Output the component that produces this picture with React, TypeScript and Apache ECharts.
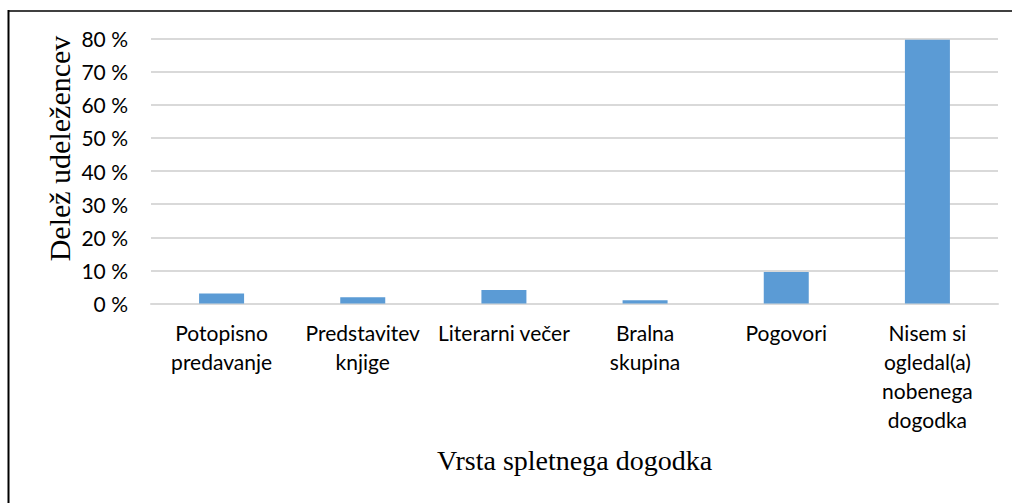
import React, { useEffect, useRef } from "react";
import * as echarts from "echarts";

const categories = [
  "Potopisno\npredavanje",
  "Predstavitev\nknjige",
  "Literarni večer",
  "Bralna\nskupina",
  "Pogovori",
  "Nisem si\nogledal(a)\nnobenega\ndogodka",
];
const shares = [3.0, 1.9, 4.1, 1.0, 9.5, 79.6];
const yTicks = { min: 0, max: 80, interval: 10 };
const xTitle = "Vrsta spletnega dogodka";
const yTitle = "Delež udeležencev";

export default function App() {
  const ref = useRef<HTMLDivElement>(null);
  useEffect(() => {
    if (!ref.current) return;
    const chart = echarts.init(ref.current, null, { renderer: "svg" });
    const sans = "Lato";
    const serif = "Liberation Serif";
    chart.setOption({
      animation: false,
      grid: { left: 151, right: 14, top: 38.5, bottom: 199.5, containLabel: false },
      xAxis: {
        type: "category",
        data: categories,
        axisLine: { show: true, lineStyle: { color: "#d9d9d9", width: 2 } },
        axisTick: { show: false },
        axisLabel: {
          interval: 0,
          color: "#000",
          fontFamily: sans,
          fontSize: 21,
          lineHeight: 29,
          margin: 14,
        },
      },
      yAxis: {
        type: "value",
        min: yTicks.min,
        max: yTicks.max,
        interval: yTicks.interval,
        axisLine: { show: false },
        axisTick: { show: false },
        splitLine: { lineStyle: { color: "#d9d9d9", width: 2 } },
        axisLabel: {
          color: "#000",
          fontFamily: sans,
          fontSize: 21,
          margin: 23,
          formatter: (v: number) => `${v} %`,
        },
      },
      series: [
        {
          type: "bar",
          data: shares,
          barWidth: 45,
          itemStyle: { color: "#5b9bd5" },
        },
      ],
      graphic: [
        {
          type: "line",
          shape: { x1: 8, y1: 11, x2: 1012, y2: 11 },
          style: { stroke: "#000", lineWidth: 1.5 },
        },
        {
          type: "line",
          shape: { x1: 8.5, y1: 10, x2: 8.5, y2: 503 },
          style: { stroke: "#000", lineWidth: 2 },
        },
        {
          type: "text",
          x: 574.5,
          y: 460,
          style: {
            text: xTitle,
            font: `28px "${serif}"`,
            fill: "#000",
            align: "center",
            verticalAlign: "middle",
          },
        },
        {
          type: "text",
          x: 59,
          y: 148.5,
          rotation: Math.PI / 2,
          style: {
            text: yTitle,
            font: `30px "${serif}"`,
            fill: "#000",
            align: "center",
            verticalAlign: "middle",
          },
        },
      ],
    });
    return () => chart.dispose();
  }, []);
  return (
    <div
      ref={ref}
      style={{ position: "fixed", left: 0, top: 0, width: 1012, height: 503, background: "#fff" }}
    />
  );
}
